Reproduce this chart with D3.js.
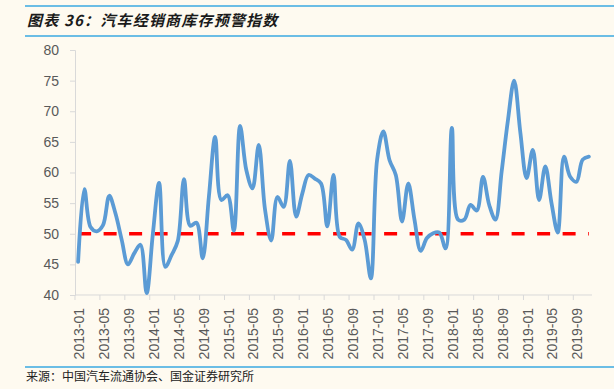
<!DOCTYPE html>
<html>
<head>
<meta charset="utf-8">
<script src="https://cdn.jsdelivr.net/npm/d3@7"></script>
<style>
  html, body { margin: 0; padding: 0; background: #fefaf0; }
  svg { display: block; }
  text { font-family: "Liberation Sans", Arial, sans-serif; }
  .cjk { font-family: "Noto Sans CJK SC", sans-serif; }
</style>
</head>
<body>
<div id="canvas"></div>
<script>
// Monthly index, 2013-01 .. 2019-11
var startYear = 2013,
	months = d3.range(83).map(function(i) {
		var y = startYear + Math.floor(i / 12), m = i % 12 + 1;
		return y + '-' + (m < 10 ? '0' + m : m);
	}),
	indexValues = [
		45.4, 57.3, 51.1, 50.4, 51.4, 56.2, 53.3, 49.0, 45.0, 46.8, 48.2, 40.3,
		50.0, 58.3, 44.6, 46.5, 48.8, 58.9, 51.3, 51.8, 46.0, 56.1, 65.8, 55.5,
		56.3, 50.5, 67.6, 60.4, 57.4, 64.5, 54.0, 48.9, 56.0, 54.4, 61.9, 52.8,
		56.6, 59.6, 59.0, 58.2, 51.2, 59.6, 49.5, 49.0, 47.4, 51.7, 49.0, 42.7,
		62.1, 66.7, 62.0, 59.6, 52.0, 58.2, 52.3, 47.2, 49.3, 50.1, 50.2, 47.6,
		67.3, 52.3, 52.3, 54.7, 53.8, 59.3, 54.7, 52.3, 60.2, 68.5, 75.0, 66.5,
		59.1, 63.7, 55.5, 61.0, 55.0, 50.2, 62.6, 59.3, 58.5, 62.1, 62.6
	],
	warningLevel = 50,
	yTicks = [40, 45, 50, 55, 60, 65, 70, 75, 80],
	titleText = '图表 36：汽车经销商库存预警指数',
	sourceText = '来源：中国汽车流通协会、国金证券研究所';

var width = 614, height = 389,
	plot = { left: 75, right: 592, top: 50, bottom: 295 };

var svg = d3.select('#canvas').append('svg')
	.attr('width', width)
	.attr('height', height);

svg.append('rect').attr('width', width).attr('height', height).attr('fill', '#fefaf0');

// header / footer rules
[6, 36, 367].forEach(function(y) {
	svg.append('line')
		.attr('x1', 25).attr('x2', width)
		.attr('y1', y).attr('y2', y)
		.attr('stroke', '#3aa9e2').attr('stroke-width', 1.6);
});

svg.append('text')
	.attr('class', 'cjk')
	.attr('x', 27).attr('y', 26)
	.attr('font-size', 15).attr('font-weight', 'bold').attr('font-style', 'italic')
	.attr('letter-spacing', 1.2)
	.attr('fill', '#1a1a1a')
	.text(titleText);

svg.append('text')
	.attr('class', 'cjk')
	.attr('x', 26).attr('y', 381)
	.attr('font-size', 12)
	.attr('fill', '#222')
	.text(sourceText);

// scales
var x = d3.scaleBand()
	.domain(months)
	.range([plot.left, plot.right]);

var y = d3.scaleLinear()
	.domain([40, 80])
	.range([plot.bottom, plot.top]);

function cx(m) { return x(m) + x.bandwidth() / 2; }

// y axis
var yAxis = svg.append('g')
	.attr('transform', 'translate(' + plot.left + ',0)')
	.call(d3.axisLeft(y).tickValues(yTicks).tickSize(5).tickPadding(11));
yAxis.select('.domain').attr('stroke', '#d9d9d9');
yAxis.selectAll('.tick line').attr('stroke', '#d9d9d9');
yAxis.selectAll('.tick text')
	.attr('fill', '#595959').attr('font-size', 14)
	.style('font-family', '"Liberation Sans", Arial, sans-serif');

// x axis: ticks at category boundaries every 4 months
var xAxisG = svg.append('g');
xAxisG.append('line')
	.attr('x1', plot.left).attr('x2', plot.right)
	.attr('y1', plot.bottom).attr('y2', plot.bottom)
	.attr('stroke', '#d9d9d9');

var labelMonths = months.filter(function(d, i) { return i % 4 === 0; });

xAxisG.selectAll('line.tick')
	.data(labelMonths)
	.enter().append('line')
	.attr('class', 'tick')
	.attr('x1', function(d) { return x(d); })
	.attr('x2', function(d) { return x(d); })
	.attr('y1', plot.bottom).attr('y2', plot.bottom + 5)
	.attr('stroke', '#d9d9d9');

xAxisG.selectAll('text')
	.data(labelMonths)
	.enter().append('text')
	.attr('transform', function(d) {
		return 'translate(' + (cx(d) + 1) + ',' + (plot.bottom + 13) + ') rotate(-90)';
	})
	.attr('dy', '0.35em')
	.attr('text-anchor', 'end')
	.attr('font-size', 14)
	.attr('fill', '#595959')
	.text(function(d) { return d; });

// warning line
svg.append('line')
	.attr('x1', cx(months[0])).attr('x2', cx(months[months.length - 1]))
	.attr('y1', y(warningLevel)).attr('y2', y(warningLevel))
	.attr('stroke', '#ff0000').attr('stroke-width', 3.5)
	.attr('stroke-dasharray', '13,12.5');

// index line
var line = d3.line()
	.x(function(d, i) { return cx(months[i]); })
	.y(function(d) { return y(d); })
	.curve(d3.curveCatmullRom.alpha(0.5));

svg.append('path')
	.datum(indexValues)
	.attr('d', line)
	.attr('fill', 'none')
	.attr('stroke', '#5b9bd5')
	.attr('stroke-width', 3.8)
	.attr('stroke-linejoin', 'round')
	.attr('stroke-linecap', 'round');
</script>
</body>
</html>
